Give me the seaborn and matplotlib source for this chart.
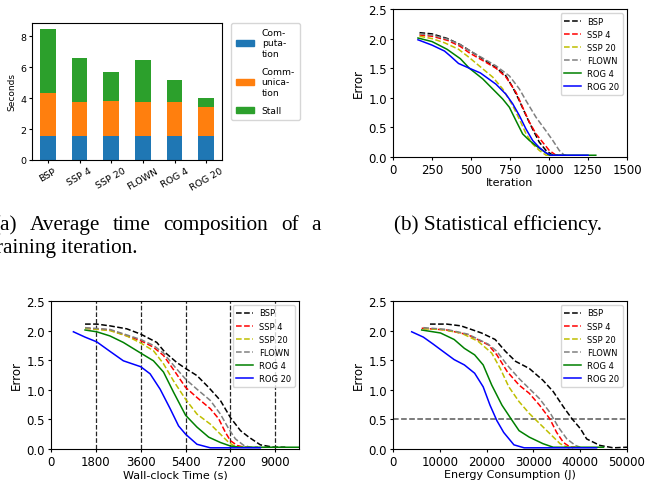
import matplotlib
matplotlib.use("Agg")
import matplotlib.pyplot as plt
from matplotlib.patches import Patch
import numpy as np
import seaborn as sns

plt.rcParams["font.family"] = ["DejaVu Sans"]
plt.rcParams["xtick.major.size"] = 2.4
plt.rcParams["ytick.major.size"] = 2.4
plt.rcParams["xtick.major.pad"] = 1.8
plt.rcParams["ytick.major.pad"] = 1.8
plt.rcParams["axes.labelpad"] = 2.5

W, H = 657, 481
METHODS = ["BSP", "SSP 4", "SSP 20", "FLOWN", "ROG 4", "ROG 20"]
STYLES = {
    "BSP": ("k", "--"),
    "SSP 4": ("r", "--"),
    "SSP 20": ("y", "--"),
    "FLOWN": ("grey", "--"),
    "ROG 4": ("g", "-"),
    "ROG 20": ("b", "-"),
}

# (a) average time composition of a training iteration (seconds)
COMPUTATION = [1.55, 1.55, 1.55, 1.55, 1.55, 1.55]
COMMUNICATION = [2.80, 2.22, 2.30, 2.22, 2.22, 1.89]
STALL = [4.10, 2.85, 1.86, 2.72, 1.42, 0.59]

# (b) error vs iteration
B_BSP_X = [170, 250, 350, 430, 489, 575, 660, 724, 767, 810, 853, 895, 938, 981, 1024, 1060]
B_BSP_Y = [2.10, 2.08, 2.00, 1.90, 1.80, 1.66, 1.51, 1.37, 1.18, 0.95, 0.70, 0.47, 0.25, 0.11, 0.03, 0.03]
B_SSP4_X = [170, 250, 350, 430, 489, 575, 660, 724, 789, 831, 874, 917, 959, 1002, 1045, 1080]
B_SSP4_Y = [2.06, 2.04, 1.97, 1.87, 1.76, 1.63, 1.50, 1.35, 1.09, 0.84, 0.59, 0.39, 0.25, 0.11, 0.03, 0.03]
B_SSP20_X = [170, 250, 330, 420, 489, 575, 639, 703, 767, 810, 853, 895, 938, 981, 1020]
B_SSP20_Y = [2.04, 2.00, 1.93, 1.82, 1.68, 1.49, 1.35, 1.15, 0.87, 0.64, 0.39, 0.22, 0.11, 0.03, 0.03]
B_FLOWN_X = [170, 250, 350, 430, 489, 575, 660, 746, 810, 853, 917, 981, 1024, 1066, 1098, 1110]
B_FLOWN_Y = [2.08, 2.06, 1.99, 1.90, 1.80, 1.67, 1.54, 1.37, 1.15, 0.95, 0.67, 0.44, 0.28, 0.11, 0.03, 0.03]
B_ROG4_X = [160, 250, 346, 432, 489, 575, 639, 703, 746, 789, 831, 874, 917, 959, 1002, 1300]
B_ROG4_Y = [2.01, 1.95, 1.82, 1.66, 1.50, 1.32, 1.15, 0.98, 0.84, 0.61, 0.39, 0.28, 0.19, 0.11, 0.03, 0.03]
B_ROG20_X = [160, 250, 330, 370, 420, 489, 560, 660, 724, 767, 810, 853, 895, 938, 981, 1013, 1250]
B_ROG20_Y = [1.98, 1.89, 1.79, 1.70, 1.58, 1.50, 1.42, 1.23, 1.06, 0.90, 0.70, 0.47, 0.28, 0.16, 0.07, 0.03, 0.03]

# (c) error vs wall-clock time (s)
C_BSP_X = [1366, 1835, 2364, 3040, 3600, 4245, 4580, 5050, 5400, 5856, 6326, 6796, 7200, 7603, 7938, 8400, 8930, 9400]
C_BSP_Y = [2.11, 2.11, 2.08, 2.03, 1.94, 1.80, 1.63, 1.46, 1.36, 1.24, 1.04, 0.82, 0.53, 0.31, 0.20, 0.07, 0.03, 0.03]
C_SSP4_X = [1366, 2364, 3600, 4110, 4513, 4983, 5400, 5856, 6393, 6729, 6998, 7200, 7468, 7750, 8000]
C_SSP4_Y = [2.04, 2.01, 1.83, 1.72, 1.58, 1.30, 1.04, 0.87, 0.68, 0.51, 0.28, 0.14, 0.06, 0.03, 0.03]
C_SSP20_X = [1366, 2364, 3036, 3600, 4110, 4513, 4916, 5400, 5856, 6393, 6796, 7132, 7400, 7700]
C_SSP20_Y = [2.04, 2.00, 1.91, 1.79, 1.66, 1.44, 1.15, 0.84, 0.59, 0.42, 0.25, 0.11, 0.04, 0.03]
C_FLOWN_X = [1366, 2364, 3600, 4110, 4513, 4983, 5400, 5856, 6393, 6796, 7132, 7400, 7736, 8000, 8300]
C_FLOWN_Y = [2.05, 2.02, 1.85, 1.75, 1.62, 1.38, 1.18, 1.01, 0.82, 0.59, 0.34, 0.17, 0.06, 0.03, 0.03]
C_ROG4_X = [1366, 1835, 2364, 2902, 3600, 4110, 4513, 4916, 5400, 5856, 6326, 6796, 7200, 7600, 9950]
C_ROG4_Y = [2.01, 1.98, 1.91, 1.80, 1.62, 1.49, 1.30, 0.96, 0.57, 0.37, 0.20, 0.11, 0.05, 0.03, 0.03]
C_ROG20_X = [899, 1366, 1835, 2364, 2902, 3600, 3976, 4379, 4782, 5118, 5400, 5856, 6393, 8400]
C_ROG20_Y = [1.98, 1.89, 1.81, 1.65, 1.49, 1.39, 1.27, 1.01, 0.68, 0.39, 0.25, 0.08, 0.02, 0.02]

# (d) error vs energy consumption (J)
D_BSP_X = [7900, 11470, 14525, 18905, 21825, 24015, 26205, 29125, 32045, 34235, 36425, 38250, 40075, 41380, 44230, 47080, 50000]
D_BSP_Y = [2.11, 2.11, 2.08, 1.96, 1.85, 1.65, 1.48, 1.36, 1.16, 0.97, 0.71, 0.51, 0.34, 0.17, 0.06, 0.02, 0.03]
D_SSP4_X = [6130, 11470, 16000, 20365, 22190, 24380, 26935, 29125, 31315, 33505, 34965, 36425, 37885, 39000]
D_SSP4_Y = [2.04, 2.01, 1.93, 1.76, 1.59, 1.31, 1.08, 0.94, 0.74, 0.51, 0.28, 0.11, 0.03, 0.03]
D_SSP20_X = [6500, 10150, 14525, 18175, 21095, 22920, 24745, 26935, 29125, 31315, 33505, 35695, 37520, 38500]
D_SSP20_Y = [2.03, 2.02, 1.96, 1.82, 1.62, 1.36, 1.05, 0.80, 0.60, 0.43, 0.26, 0.09, 0.02, 0.02]
D_FLOWN_X = [6480, 11470, 16000, 20365, 22190, 24380, 26935, 29125, 31315, 33505, 35330, 37155, 38980, 40000]
D_FLOWN_Y = [2.05, 2.02, 1.94, 1.77, 1.65, 1.42, 1.19, 1.02, 0.85, 0.62, 0.37, 0.17, 0.06, 0.03]
D_ROG4_X = [6130, 10150, 13065, 15255, 17445, 19270, 21095, 23285, 25475, 26935, 29125, 32045, 34235, 45000]
D_ROG4_Y = [2.01, 1.96, 1.85, 1.70, 1.59, 1.42, 1.08, 0.74, 0.48, 0.31, 0.20, 0.09, 0.03, 0.03]
D_ROG20_X = [3990, 6480, 8620, 10150, 13065, 15255, 17445, 19270, 20730, 22190, 23650, 25840, 28030, 43500]
D_ROG20_Y = [1.98, 1.89, 1.77, 1.68, 1.51, 1.42, 1.28, 1.05, 0.74, 0.48, 0.28, 0.07, 0.02, 0.02]

B_CURVES = [(B_BSP_X, B_BSP_Y), (B_SSP4_X, B_SSP4_Y), (B_SSP20_X, B_SSP20_Y),
            (B_FLOWN_X, B_FLOWN_Y), (B_ROG4_X, B_ROG4_Y), (B_ROG20_X, B_ROG20_Y)]
C_CURVES = [(C_BSP_X, C_BSP_Y), (C_SSP4_X, C_SSP4_Y), (C_SSP20_X, C_SSP20_Y),
            (C_FLOWN_X, C_FLOWN_Y), (C_ROG4_X, C_ROG4_Y), (C_ROG20_X, C_ROG20_Y)]
D_CURVES = [(D_BSP_X, D_BSP_Y), (D_SSP4_X, D_SSP4_Y), (D_SSP20_X, D_SSP20_Y),
            (D_FLOWN_X, D_FLOWN_Y), (D_ROG4_X, D_ROG4_Y), (D_ROG20_X, D_ROG20_Y)]

CAPTION_A1 = ["(a)", "Average", "time", "composition", "of", "a"]
CAPTION_A2 = "training iteration."
CAPTION_B = "(b) Statistical efficiency."
CAPTION_FONT = ["Liberation Serif", "DejaVu Serif"]


def px_axes(fig, left, top, right, bottom):
    return fig.add_axes([left / W, 1 - bottom / H, (right - left) / W, (bottom - top) / H])


def justified_line(fig, words, x0, x1, y, **kw):
    """Spread words between x0 and x1 (pixels), like a justified LaTeX line."""
    renderer = fig.canvas.get_renderer()
    texts = [fig.text(0, 1 - y / H, w, ha="left", **kw) for w in words]
    widths = [t.get_window_extent(renderer).width for t in texts]
    gap = (x1 - x0 - sum(widths)) / (len(words) - 1)
    x = x0
    for t, w in zip(texts, widths):
        t.set_x(x / W)
        x += w + gap


def plot_composition(fig, ax):
    comp = np.array(COMPUTATION)
    comm = comp + np.array(COMMUNICATION)
    total = comm + np.array(STALL)
    # draw cumulative heights back-to-front to get the stacked look
    for vals, color in [(total, "#2ca02c"), (comm, "#ff7f0e"), (comp, "#1f77b4")]:
        sns.barplot(x=METHODS, y=vals, color=color, width=0.5, saturation=1, ax=ax)
    ax.set_ylim(0, 8.87)
    ax.set_yticks([0, 2, 4, 6, 8])
    ax.set_ylabel("Seconds", fontsize=6.5)
    ax.set_xlabel("")
    ax.tick_params(labelsize=6.8)
    for lab in ax.get_xticklabels():
        lab.set_rotation(30)
    handles = [Patch(color="#1f77b4"), Patch(color="#ff7f0e"), Patch(color="#2ca02c")]
    ax.legend(handles, ["Com-\nputa-\ntion", "Comm-\nunica-\ntion", "Stall"],
              loc="upper left", bbox_to_anchor=(231 / W, 1 - 24 / H),
              bbox_transform=fig.transFigure, borderaxespad=0, fontsize=6.6,
              labelspacing=1.0, borderpad=0.55)


def plot_curves(ax, curves, xlabel, xlim, xticks):
    for name, (xs, ys) in zip(METHODS, curves):
        color, ls = STYLES[name]
        sns.lineplot(x=xs, y=ys, color=color, linestyle=ls, lw=1.1, ax=ax,
                     label=name, estimator=None, sort=False)
    ax.set_xlim(*xlim)
    ax.set_ylim(0, 2.5)
    ax.set_xticks(xticks)
    ax.set_yticks([0.0, 0.5, 1.0, 1.5, 2.0, 2.5])
    ax.set_xlabel(xlabel, fontsize=8, labelpad=1.0)
    ax.set_ylabel("Error", fontsize=8.5)
    ax.tick_params(labelsize=8.5)
    ax.legend(loc="upper right", fontsize=6)


fig = plt.figure(figsize=(W / 100, H / 100), dpi=100)

ax_a = px_axes(fig, 32, 24, 222, 161)
plot_composition(fig, ax_a)

ax_b = px_axes(fig, 393, 10, 627, 158)
plot_curves(ax_b, B_CURVES, "Iteration", (0, 1500), [0, 250, 500, 750, 1000, 1250, 1500])

ax_c = px_axes(fig, 51, 302, 299, 450)
for t in [1800, 3600, 5400, 7200, 9000]:
    ax_c.axvline(t, color="k", ls="--", lw=0.9, alpha=0.85, zorder=1)
plot_curves(ax_c, C_CURVES, "Wall-clock Time (s)", (0, 9950), [0, 1800, 3600, 5400, 7200, 9000])

ax_d = px_axes(fig, 393, 302, 627, 450)
plot_curves(ax_d, D_CURVES, "Energy Consumption (J)", (0, 50000), [0, 10000, 20000, 30000, 40000, 50000])
ax_d.axhline(0.5, color="0.35", ls="--", lw=1.1, zorder=1.5)

# sub-figure captions; the (a) caption is justified and clipped at the page edge
cap = dict(family=CAPTION_FONT, fontsize=15.3, va="baseline")
justified_line(fig, CAPTION_A1, -7, 321, 230, **cap)
fig.text(137 / W, 1 - 253 / H, CAPTION_A2, ha="right", **cap)
fig.text(498 / W, 1 - 230 / H, CAPTION_B, ha="center", **cap)

fig.savefig("out.png", dpi=100)
